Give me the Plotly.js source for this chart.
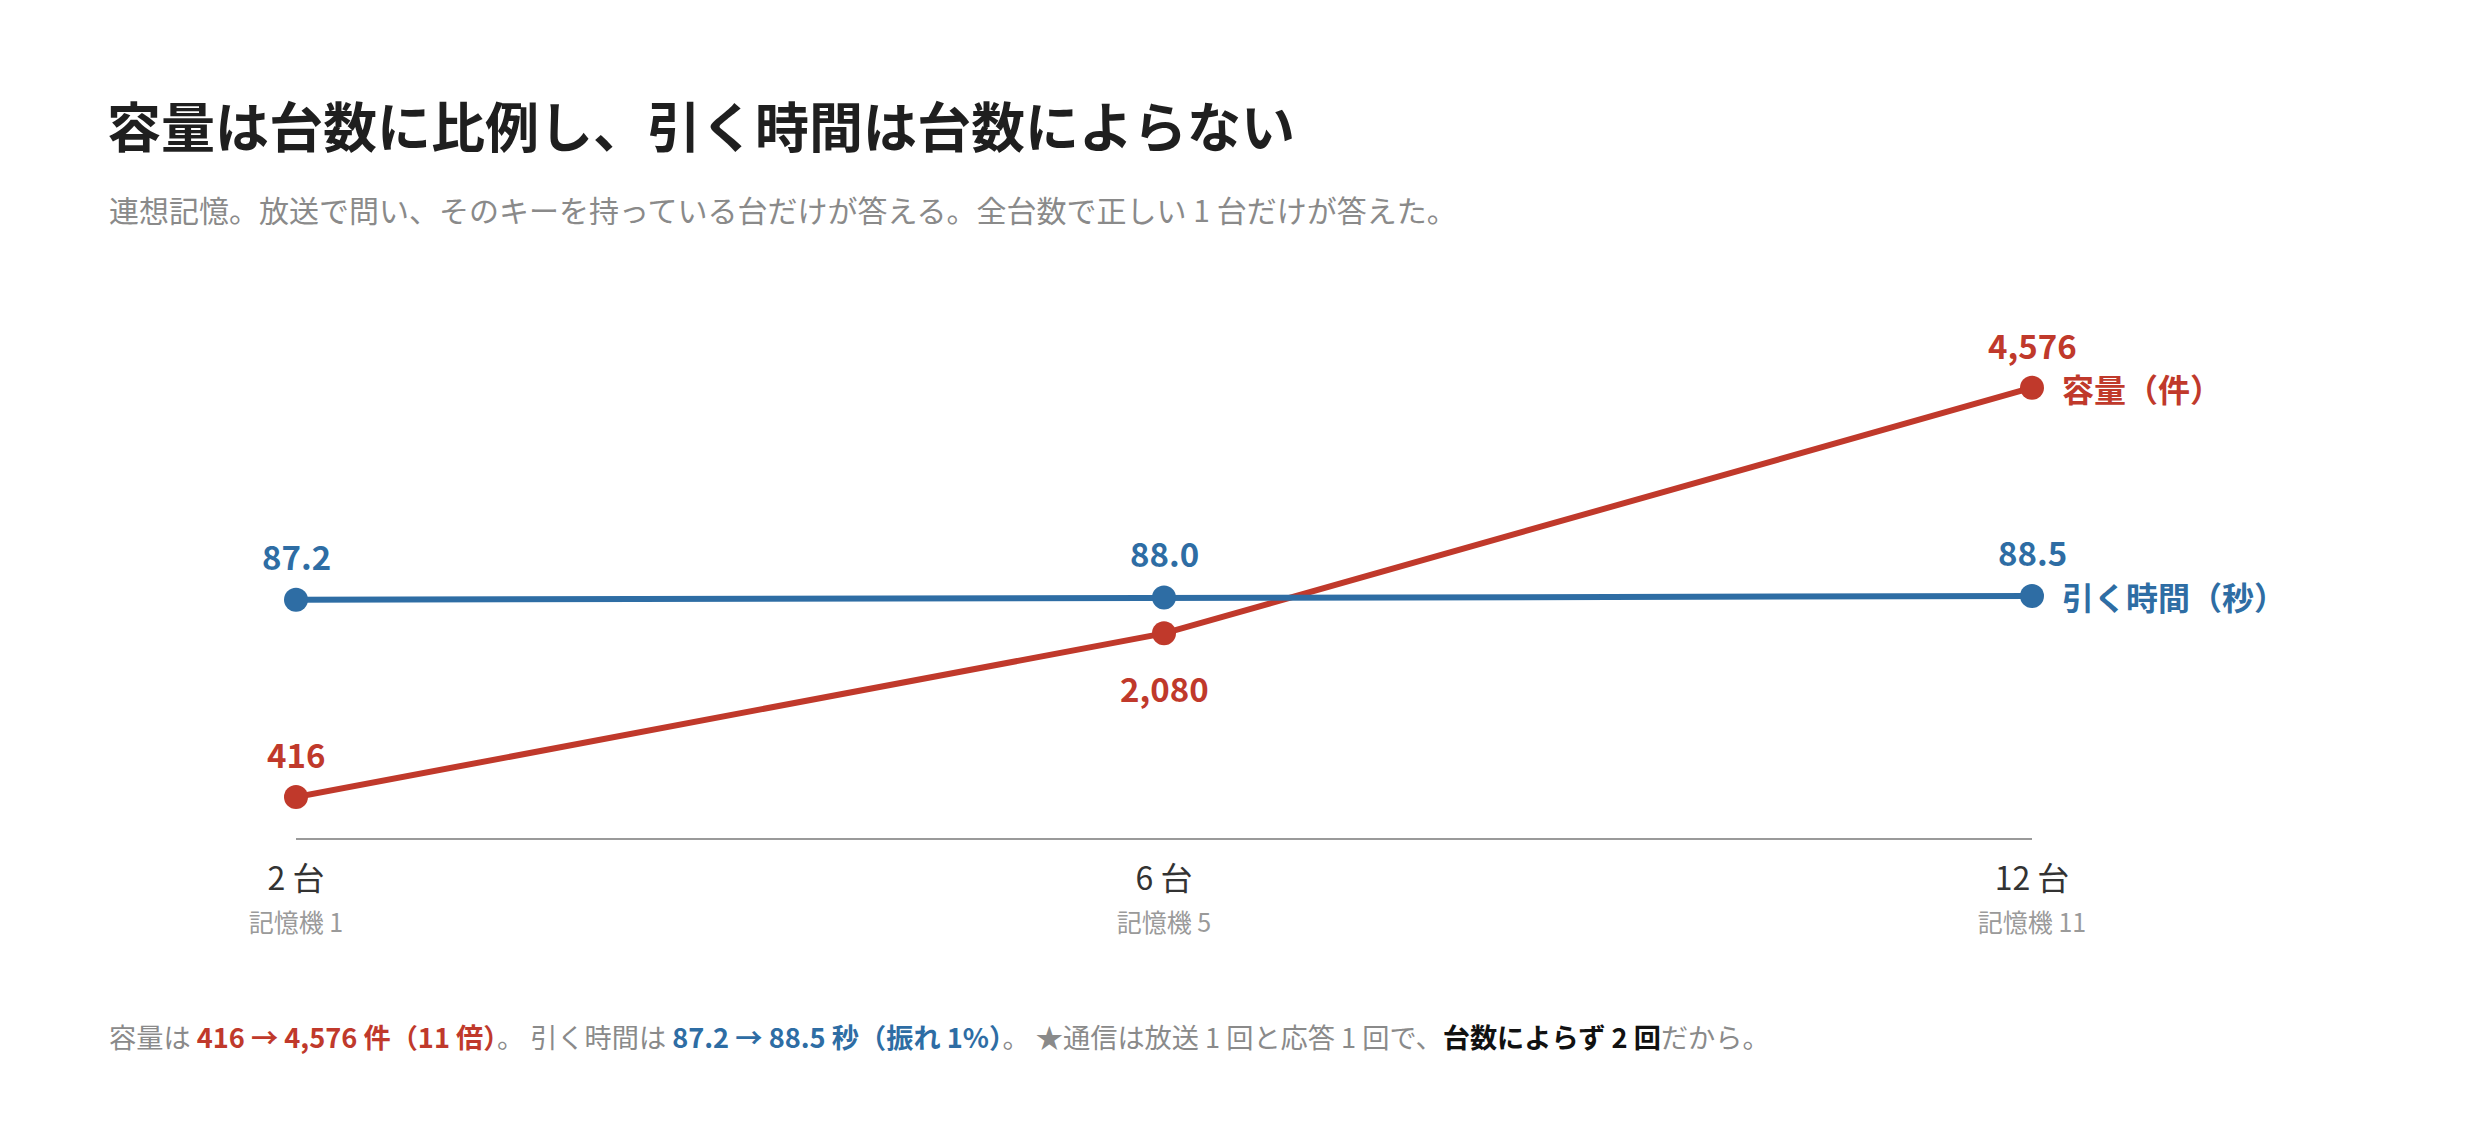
<!DOCTYPE html>
<html>
<head>
<meta charset="utf-8">
<script src="https://cdn.plot.ly/plotly-3.0.1.min.js"></script>
<style>
  html, body { margin: 0; padding: 0; background: #fff; }
  #chart { width: 2480px; height: 1146px; }
</style>
</head>
<body>
<div id="chart"></div>
<script>
// 台数（カテゴリ）
var daisu = ["2 台", "6 台", "12 台"];
var kiokuki = ["記憶機 1", "記憶機 5", "記憶機 11"];

// 容量（件）と引く時間（秒）
var yoryo = [416, 2080, 4576];
var hikuJikan = [87.2, 88.0, 88.5];

var aka = "#c0392b";
var ao = "#2e6da4";
var fuente = "Noto Sans CJK JP, Noto Sans, sans-serif";

var etiquetas = daisu.map(function (d, i) {
  return d + '<br><span style="font-size:25px;color:#9a9a9a">' + kiokuki[i] + '</span>';
});

var trazoYoryo = {
  x: daisu,
  y: yoryo,
  yaxis: "y",
  mode: "lines+markers",
  line: { color: aka, width: 6 },
  marker: { color: aka, size: 24 },
  cliponaxis: false,
  hoverinfo: "skip"
};

var trazoJikan = {
  x: daisu,
  y: hikuJikan,
  yaxis: "y2",
  mode: "lines+markers",
  line: { color: ao, width: 6 },
  marker: { color: ao, size: 24 },
  cliponaxis: false,
  hoverinfo: "skip"
};

// 値ラベル（2,080 だけ下）
var rotulos = [];
yoryo.forEach(function (v, i) {
  rotulos.push({
    x: daisu[i], y: v, yref: "y",
    text: "<b>" + v.toLocaleString("en-US") + "</b>",
    showarrow: false, yanchor: "middle",
    yshift: i === 1 ? -55 : 43,
    font: { family: fuente, size: 33, color: aka }
  });
});
hikuJikan.forEach(function (v, i) {
  rotulos.push({
    x: daisu[i], y: v, yref: "y2",
    text: "<b>" + v.toFixed(1) + "</b>",
    showarrow: false, yanchor: "middle",
    yshift: 44,
    font: { family: fuente, size: 33, color: ao }
  });
});

var pie = '容量は <b><span style="color:' + aka + '">416 → 4,576 件（11 倍）</span></b>。 ' +
  '引く時間は <b><span style="color:' + ao + '">87.2 → 88.5 秒（振れ 1%）</span></b>。 ' +
  '★通信は放送 1 回と応答 1 回で、<b><span style="color:#111">台数によらず 2 回</span></b>だから。';

var layout = {
  width: 2480,
  height: 1146,
  margin: { l: 296, r: 448, t: 346, b: 308 },
  paper_bgcolor: "#fff",
  plot_bgcolor: "#fff",
  showlegend: false,
  font: { family: fuente },
  title: {
    text: "<b>容量は台数に比例し、引く時間は台数によらない</b>",
    font: { family: fuente, size: 54, color: "#1f1f1f" },
    xref: "container", x: 107 / 2480, xanchor: "left",
    yref: "container", y: 1 - 129 / 1146, yanchor: "middle"
  },
  xaxis: {
    type: "category",
    range: [0, 2],
    showgrid: false,
    zeroline: false,
    showline: true,
    linecolor: "#9a9a9a",
    linewidth: 2,
    ticks: "",
    tickvals: daisu,
    ticktext: etiquetas,
    tickfont: { family: fuente, size: 32, color: "#333" },
    ticklabelstandoff: 12
  },
  yaxis: {
    range: [0, 5000],
    visible: false,
    fixedrange: true
  },
  yaxis2: {
    range: [0, 180],
    overlaying: "y",
    visible: false,
    fixedrange: true
  },
  annotations: rotulos.concat([
    {
      xref: "paper", yref: "paper",
      x: -0.1089, y: 1.278, xanchor: "left", yanchor: "middle",
      text: "連想記憶。放送で問い、そのキーを持っている台だけが答える。全台数で正しい 1 台だけが答えた。",
      showarrow: false,
      font: { family: fuente, size: 30, color: "#8a8a8a" }
    },
    {
      x: daisu[2], y: yoryo[2], yref: "y",
      xanchor: "left", yanchor: "middle", xshift: 28,
      text: "<b>容量（件）</b>",
      showarrow: false,
      font: { family: fuente, size: 32, color: aka }
    },
    {
      x: daisu[2], y: hikuJikan[2], yref: "y2",
      xanchor: "left", yanchor: "middle", xshift: 28,
      text: "<b>引く時間（秒）</b>",
      showarrow: false,
      font: { family: fuente, size: 32, color: ao }
    },
    {
      xref: "paper", yref: "paper",
      x: -0.1089, y: -0.402, xanchor: "left", yanchor: "middle",
      text: pie,
      showarrow: false,
      font: { family: fuente, size: 27.2, color: "#8a8a8a" }
    }
  ])
};

Plotly.newPlot("chart", [trazoYoryo, trazoJikan], layout, { displayModeBar: false, staticPlot: true });
</script>
</body>
</html>
